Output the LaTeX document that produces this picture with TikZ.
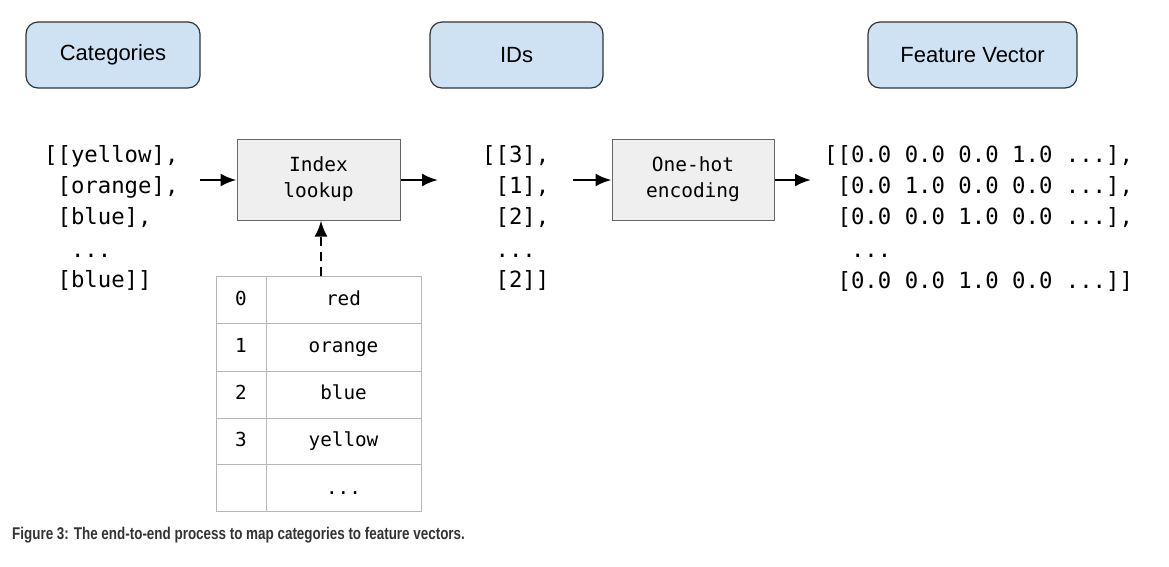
\documentclass[tikz,border=0pt]{standalone}
\usepackage{fontspec}
\setmainfont{Liberation Sans}
\newfontfamily\monof{DejaVu Sans Mono}
\usetikzlibrary{arrows.meta}
\definecolor{hdrfill}{HTML}{CFE2F3}
\definecolor{hdrdraw}{HTML}{333333}
\definecolor{procfill}{HTML}{EFEFEF}
\definecolor{procdraw}{HTML}{666666}
\definecolor{tabdraw}{HTML}{B7B7B7}
\definecolor{captext}{HTML}{333333}
\tikzset{
  hdr/.style={draw=hdrdraw, fill=hdrfill, line width=1.2pt, rounded corners=12pt, minimum height=66pt, inner sep=0pt, font=\fontsize{22}{24}\selectfont},
  proc/.style={draw=procdraw, fill=procfill, line width=1pt, minimum height=81pt, inner sep=0pt, align=center, font=\monof\fontsize{19.5}{26}\selectfont},
  code/.style={anchor=base west, inner sep=0pt, font=\monof\fontsize{22.3}{24}\selectfont},
  cell/.style={font=\monof\fontsize{19.3}{22}\selectfont, inner sep=0pt, text height=10pt, text depth=0pt},
  arr/.style={-{Latex[length=16pt,width=13pt]}, line width=2.5pt},
}
\begin{document}
\begin{tikzpicture}[x=1pt,y=-1pt]
\useasboundingbox (0,0) rectangle (1169,566);
% header boxes
\node[hdr, minimum width=174pt] (cat) at (113,55) {Categories};
\node[hdr, minimum width=173pt] (ids) at (516.5,55) {IDs};
\node[hdr, minimum width=209pt] (fv) at (972.5,55) {Feature Vector};
% categories list
\node[code] (c1) at (44,162) {[[yellow],};
\node[code] (c2) at (44,193) {\ [orange],};
\node[code] (c3) at (44,224) {\ [blue],};
\node[code] (c4) at (44,257) {\ \ ...};
\node[code] (c5) at (44,287) {\ [blue]]};
% index lookup
\node[proc, minimum width=163pt] (idx) at (318.5,179.5) {Index\\lookup};
\coordinate (inA) at (200,180);
\coordinate (outA) at (438,180);
\draw[arr] (inA) -- (idx.west |- inA);
\draw[arr] (idx.east |- outA) -- (outA);
% ids list
\node[code] (i1) at (482,162) {[[3],};
\node[code] (i2) at (482,193) {\ [1],};
\node[code] (i3) at (482,224) {\ [2],};
\node[code] (i4) at (482,257) {\ ...};
\node[code] (i5) at (482,287) {\ [2]]};
% one-hot
\node[proc, minimum width=162pt] (oh) at (693,179.5) {One-hot\\encoding};
\coordinate (inB) at (573,180);
\coordinate (outB) at (811,180);
\draw[arr] (inB) -- (oh.west |- inB);
\draw[arr] (oh.east |- outB) -- (outB);
% feature vectors
\node[code] (f1) at (824,162) {[[0.0 0.0 0.0 1.0 ...],};
\node[code] (f2) at (824,193) {\ [0.0 1.0 0.0 0.0 ...],};
\node[code] (f3) at (824,224) {\ [0.0 0.0 1.0 0.0 ...],};
\node[code] (f4) at (824,257) {\ \ ...};
\node[code] (f5) at (824,288) {\ [0.0 0.0 1.0 0.0 ...]]};
% table
\draw[tabdraw, line width=1pt] (216,276) rectangle (421,511);
\draw[tabdraw, line width=1pt] (266,276) -- (266,511);
\foreach \yy in {323,371,418,464} \draw[tabdraw, line width=1pt] (216,\yy) -- (421,\yy);
\node[cell] (k0) at (241,300) {0};
\node[cell] (v0) at (343.5,300) {red};
\node[cell] (k1) at (241,347) {1};
\node[cell] (v1) at (343.5,347) {orange};
\node[cell] (k2) at (241,394.5) {2};
\node[cell] (v2) at (343.5,394.5) {blue};
\node[cell] (k3) at (241,441) {3};
\node[cell] (v3) at (343.5,441) {yellow};
\node[cell] (v4) at (343.5,489) {...};
\coordinate (ttop) at (321,276);
\draw[arr, dash pattern=on 9pt off 6pt] (ttop) -- (idx.south -| ttop);
% caption
\node[anchor=base west, inner sep=0pt, text=captext, font=\bfseries\fontsize{17}{20}\selectfont] (cap) at (12,539) {\scalebox{0.79}[1]{Figure 3: The end-to-end process to map categories to feature vectors.}};
\end{tikzpicture}
\end{document}
